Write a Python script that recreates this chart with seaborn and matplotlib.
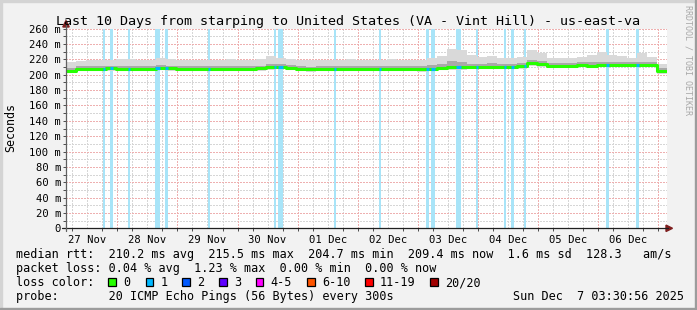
import numpy as np
import pandas as pd
import matplotlib
matplotlib.use("Agg")
import matplotlib.pyplot as plt
import seaborn as sns
from matplotlib.lines import Line2D
from matplotlib.patches import Polygon, Rectangle

# ---------------- data ----------------
# time axis: days since 27 Nov 00:00; samples every 4 hours from 27 Nov 03:30
start_day = 3.5 / 24
step_days = 4 / 24

median_ms = [205.5, 207.5, 207.5, 208, 208.5, 208, 208, 207.5, 208, 209,
             208.5, 208, 208, 208, 207.5, 208, 208, 208, 207.5, 208.5,
             209.5, 210, 209, 207.5, 207, 207.5, 207.5, 208, 208, 208,
             208, 208, 208, 208, 207.5, 207, 208, 209, 209.5, 209.5,
             210, 210, 210.5, 210.5, 210.5, 211, 215, 214, 212, 212,
             212, 212.5, 212, 212.5, 212.5, 212.5, 212.5, 213, 212.5, 205]
smoke_max = [216, 218, 219, 219, 219, 220, 220, 219, 219, 222,
             221, 219, 219, 219, 219, 219, 220, 219, 219, 220,
             224, 222, 221, 219, 219, 219, 219, 219, 220, 219,
             219, 219, 220, 219, 219, 219, 222, 225, 234, 232,
             226, 223, 225, 222, 222, 223, 232, 228, 222, 222,
             222, 223, 226, 229, 226, 224, 222, 228, 223, 214]
smoke_q_hi = [209, 211, 211, 211.5, 212, 212, 211.5, 211, 212, 213,
              212, 211.5, 211.5, 211.5, 211, 211.5, 212, 211.5, 211, 212,
              214, 214, 213, 211, 210.5, 211, 211, 211.5, 212, 211.5,
              211.5, 211.5, 212, 211.5, 211, 211, 212.5, 214, 218, 217,
              214.5, 214, 215, 214, 214, 215, 219, 217.5, 215.5, 215.5,
              215.5, 216, 216.5, 217, 216.5, 216, 216, 217, 216, 209]
smoke_q_lo = [204, 206, 206, 206.5, 207, 206.5, 206.5, 206, 206.5, 207.5,
              207, 206.5, 206.5, 206.5, 206, 206.5, 206.5, 206.5, 206, 207,
              208, 208.5, 207.5, 206, 205.5, 206, 206, 206.5, 206.5, 206.5,
              206.5, 206.5, 206.5, 206.5, 206, 205.5, 206.5, 207.5, 208, 208,
              208.5, 208.5, 209, 209, 209, 209.5, 213, 212, 210.5, 210.5,
              210.5, 211, 210.5, 211, 211, 211, 211, 211.5, 211, 203]
smoke_min = [202.5, 204.5, 204.5, 205, 205, 205, 205, 204.5, 205, 206,
             205.5, 205, 205, 205, 204.5, 205, 205, 205, 204.5, 205.5,
             206.5, 207, 206, 204.5, 204, 204.5, 204.5, 205, 205, 205,
             205, 205, 205, 205, 204.5, 204, 205, 206, 206.5, 206.5,
             207, 207, 207.5, 207.5, 207.5, 208, 211.5, 210.5, 209, 209,
             209, 209.5, 209, 209.5, 209.5, 209.5, 209.5, 210, 209.5, 201]

# loss bars: centre (days since 27 Nov 00:00) and width (days)
loss_center = [0.772, 0.9, 1.195, 1.672, 1.822, 2.528, 3.617, 3.722, 4.617,
               5.367, 6.155, 6.255, 6.672, 6.988, 7.45, 7.572, 7.783, 9.155, 9.655]
loss_width = [0.033, 0.05, 0.033, 0.083, 0.05, 0.033, 0.033, 0.083, 0.033,
              0.033, 0.05, 0.067, 0.083, 0.033, 0.033, 0.05, 0.033, 0.05, 0.05]

day_labels = ["27 Nov", "28 Nov", "29 Nov", "30 Nov", "01 Dec",
              "02 Dec", "03 Dec", "04 Dec", "05 Dec", "06 Dec"]
y_ticks = [0, 20, 40, 60, 80, 100, 120, 140, 160, 180, 200, 220, 240, 260]

loss_names = ["0", "1", "2", "3", "4-5", "6-10", "11-19", "20/20"]
loss_colors = ["#26ff00", "#00b8ff", "#0059ff", "#5e00ff", "#ff00ff",
               "#ff5500", "#ff0000", "#a10000"]

stats_rtt = "median rtt:  210.2 ms avg  215.5 ms max  204.7 ms min  209.4 ms now  1.6 ms sd  128.3   am/s"
stats_loss = "packet loss: 0.04 % avg  1.23 % max  0.00 % min  0.00 % now"
probe_text = "probe:       20 ICMP Echo Pings (56 Bytes) every 300s"
stamp_text = "Sun Dec  7 03:30:56 2025"

# ---------------- figure ----------------
sns.set_theme(style="white")
plt.rcParams["font.family"] = ["DejaVu Sans Mono"]

W, H = 697, 310
fig = plt.figure(figsize=(W / 100, H / 100), dpi=100)
fig.patch.set_facecolor("#f2f2f2")

def fx(px):
    return px / W

def fy(py):
    return 1 - py / H

L, R, T, B = 66, 667, 28.7, 228.3
ax = fig.add_axes([fx(L), fy(B), fx(R - L), (B - T) / H])
ax.set_facecolor("white")
x_end = start_day + 10
ax.set_xlim(start_day, x_end)
ax.set_ylim(0, 260)
for s in ax.spines.values():
    s.set_visible(False)

dot = (0, (1, 1))
minor_c, major_c = "#d6d6d6", "#eeb0b0"
# grid
for v in range(10, 260, 20):
    ax.axhline(v, color=minor_c, lw=1.0, ls=dot, zorder=0.5, antialiased=False)
for v in range(20, 261, 20):
    ax.axhline(v, color=major_c, lw=1.0, ls=dot, zorder=0.6, antialiased=False)
for q in np.arange(0.25, 10.5, 0.25):
    if q <= start_day or q >= x_end:
        continue
    if abs(q - round(q)) < 1e-6:
        ax.axvline(q, color=major_c, lw=1.0, ls=dot, zorder=0.6, antialiased=False)
    else:
        ax.axvline(q, color=minor_c, lw=1.0, ls=dot, zorder=0.5, antialiased=False)

# loss bars
for c, w in zip(loss_center, loss_width):
    ax.axvspan(c - w / 2, c + w / 2, color="#a8e4f8", lw=0, zorder=1)

# smoke
n = len(median_ms)
edges = start_day + np.arange(n + 1) * step_days
def ext(a):
    return list(a) + [a[-1]]
ax.fill_between(edges, ext(smoke_min), ext(smoke_max), step="post",
                color="#d9d9d9", lw=0, zorder=2)
ax.fill_between(edges, ext(smoke_q_lo), ext(smoke_q_hi), step="post",
                color="#a9a9a9", lw=0, zorder=2.1)

# median line
df = pd.DataFrame({"t": edges, "rtt": ext(median_ms)})
sns.lineplot(data=df, x="t", y="rtt", ax=ax, color="#26ff00", lw=2.2,
             drawstyle="steps-post", estimator=None, zorder=3)
# loss-coloured pieces of the median line
for c, w in zip(loss_center, loss_width):
    k = min(int((c - start_day) / step_days), n - 1)
    ax.plot([c - w / 2, c + w / 2], [median_ms[k]] * 2, color="#00b8ff",
            lw=2.2, solid_capstyle="butt", zorder=3.2)

ax.set_xlabel("")
ax.set_ylabel("")

# ticks
ax.set_yticks(y_ticks)
ax.set_yticklabels([("%d m" % v) if v else "0" for v in y_ticks])
ax.set_yticks(list(range(10, 260, 20)), minor=True)
ax.set_xticks([d + 0.5 for d in range(10)])
ax.set_xticklabels(day_labels)
ax.set_xticks([q for q in np.arange(0.25, 10.5, 0.25) if start_day < q < x_end], minor=True)
ax.tick_params(axis="y", which="both", length=2.2, width=0.72, color="#505050",
               direction="out", pad=1.4, labelsize=7.6, labelcolor="black", left=True)
ax.tick_params(axis="x", which="major", length=0, pad=4.5, labelsize=7.6,
               labelcolor="black", bottom=True)
ax.tick_params(axis="x", which="minor", length=2.2, width=0.72, color="#505050",
               direction="out", bottom=True)
for lab in ax.get_yticklabels():
    lab.set_verticalalignment("center_baseline")

# axes lines and arrows
fig.add_artist(Line2D([fx(62), fx(668)], [fy(B), fy(B)], color="#202020", lw=0.9,
                      transform=fig.transFigure))
fig.add_artist(Line2D([fx(L), fx(L)], [fy(B + 3), fy(24)], color="#606060", lw=0.9,
                      transform=fig.transFigure))
fig.add_artist(Polygon([[fx(666), fy(B - 3.2)], [fx(666), fy(B + 3.2)], [fx(672.5), fy(B)]],
                       closed=True, color="#7f1f1f", transform=fig.transFigure))
fig.add_artist(Polygon([[fx(L - 3.2), fy(27)], [fx(L + 3.2), fy(27)], [fx(L), fy(20.5)]],
                       closed=True, color="#7f1f1f", transform=fig.transFigure))

# titles
fig.text(0.5, fy(24.5), "Last 10 Days from starping to United States (VA - Vint Hill) - us-east-va",
         ha="center", va="baseline", fontsize=9.6, color="black")
fig.text(fx(11), fy(128), "Seconds", rotation=90, ha="center", va="center",
         fontsize=8.4, color="black")
fig.text(fx(688), fy(5), "RRDTOOL / TOBI OETIKER", rotation=270, ha="center", va="top",
         fontsize=6.0, color="#a8a8a8")

# legend / stats
fs = 8.45
def txt(px, base, s):
    fig.text(fx(px), fy(base), s, ha="left", va="baseline", fontsize=fs, color="black")

txt(16, 258.3, stats_rtt)
txt(16, 272.3, stats_loss)
txt(16, 286.3, "loss color:")
box_x = [108.3, 145.7, 182.3, 219, 255.7, 307.3, 365, 430]
for bx, name, col in zip(box_x, loss_names, loss_colors):
    fig.add_artist(Rectangle((fx(bx), fy(285.7)), fx(7.7), 8 / H, facecolor=col,
                             edgecolor="black", lw=0.9, transform=fig.transFigure))
    txt(bx + 15, 286.3, name)
txt(16, 300.3, probe_text)
txt(513, 300.3, stamp_text)

# frame shading
fig.add_artist(Rectangle((0, 1 - 2 / H), 1, 2 / H, color="#d4d4d4", transform=fig.transFigure))
fig.add_artist(Rectangle((0, 0), 2 / W, 1, color="#d4d4d4", transform=fig.transFigure))
fig.add_artist(Rectangle((0, 0), 1, 2 / H, color="#9c9c9c", transform=fig.transFigure))
fig.add_artist(Rectangle((1 - 2 / W, 0), 2 / W, 1, color="#9c9c9c", transform=fig.transFigure))

fig.savefig("out.png", dpi=100, facecolor=fig.get_facecolor())
